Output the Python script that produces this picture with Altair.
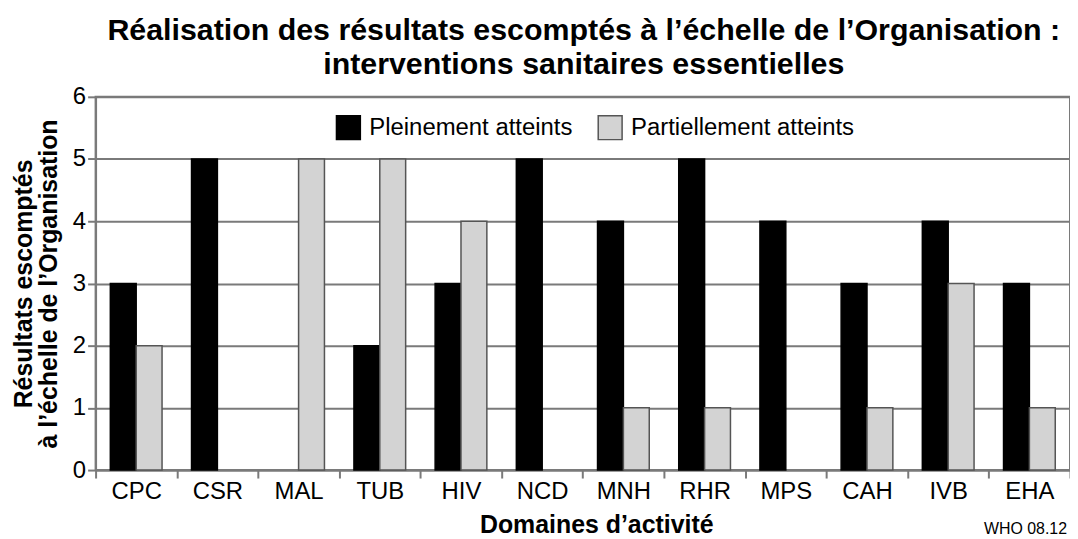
import altair as alt
import pandas as pd

categories = ["CPC", "CSR", "MAL", "TUB", "HIV", "NCD", "MNH", "RHR", "MPS", "CAH", "IVB", "EHA"]
pleinement = [3, 5, 0, 2, 3, 5, 4, 5, 4, 3, 4, 3]
partiellement = [2, 0, 5, 5, 4, 0, 1, 1, 0, 1, 3, 1]
series = ["Pleinement atteints", "Partiellement atteints"]
y_ticks = [0, 1, 2, 3, 4, 5, 6]
note = ["WHO 08.12"]

rows = []
for c, p, q in zip(categories, pleinement, partiellement):
    rows.append({"domaine": c, "serie": series[0], "valeur": p})
    rows.append({"domaine": c, "serie": series[1], "valeur": q})
df = pd.DataFrame(rows)
df = df[df["valeur"] > 0]

FONT = "Liberation Sans"
GRID = "#7a7a7a"

bars = alt.Chart(df).mark_bar(strokeWidth=1.5).encode(
    x=alt.X(
        "domaine:N",
        sort=categories,
        scale=alt.Scale(domain=categories, paddingInner=0, paddingOuter=0),
        axis=alt.Axis(
            title="Domaines d’activité",
            labelAngle=0,
            tickBand="extent",
            grid=False,
            labelFontSize=24,
            labelColor="#000",
            labelPadding=2,
            tickSize=8,
            tickColor=GRID,
            tickWidth=2,
            domainColor=GRID,
            domainWidth=2,
            titleFontSize=25,
            titleFontWeight="bold",
            titleColor="#000",
            titlePadding=9,
            titleX=503,
        ),
    ),
    xOffset=alt.XOffset(
        "serie:N",
        sort=series,
        scale=alt.Scale(domain=series, paddingInner=0, paddingOuter=0.57),
    ),
    y=alt.Y(
        "valeur:Q",
        scale=alt.Scale(domain=[0, 6]),
        axis=alt.Axis(
            values=y_ticks,
            title=["Résultats escomptés", "à l’échelle de l’Organisation"],
            labelFontSize=24,
            labelColor="#000",
            labelPadding=2,
            tickSize=8,
            tickColor=GRID,
            tickWidth=2,
            domainColor=GRID,
            domainWidth=2,
            gridColor=GRID,
            gridWidth=2,
            titleFontSize=25,
            titleFontWeight="bold",
            titleColor="#000",
            titleLineHeight=25,
            titlePadding=11,
        ),
    ),
    color=alt.Color(
        "serie:N",
        sort=series,
        scale=alt.Scale(domain=series, range=["#000000", "#d3d3d3"]),
        legend=alt.Legend(
            title=None,
            orient="none",
            legendX=241,
            legendY=18,
            direction="horizontal",
            symbolType="square",
            symbolSize=576,
            symbolStrokeColor="#555555",
            symbolStrokeWidth=1.5,
            labelFontSize=24,
            labelLimit=0,
            labelColor="#000",
            labelOffset=8,
            columnPadding=22,
        ),
    ),
    stroke=alt.Stroke(
        "serie:N",
        sort=series,
        scale=alt.Scale(domain=series, range=["#000000", "#555555"]),
        legend=None,
    ),
)

note_layer = alt.Chart(pd.DataFrame({"t": note})).mark_text(
    align="right", baseline="alphabetic", fontSize=16, font=FONT, color="#000"
).encode(
    x=alt.value(976),
    y=alt.value(439),
    text="t:N",
)

chart = alt.layer(bars, note_layer).properties(
    width=979,
    height=375,
    padding={"left": 88, "top": 88, "right": 0, "bottom": 66},
    autosize=alt.AutoSizeParams(type="none"),
    title=alt.Title(
        ["Réalisation des résultats escomptés à l’échelle de l’Organisation :",
         "interventions sanitaires essentielles"],
        fontSize=30.5,
        font=FONT,
        fontWeight="bold",
        color="#000",
        anchor="middle",
        lineHeight=35,
        offset=4,
        dx=1,
    ),
).configure(font=FONT).configure_view(stroke=GRID, strokeWidth=2)

chart.save("out.html", embed_options={"renderer": "svg", "actions": False})
